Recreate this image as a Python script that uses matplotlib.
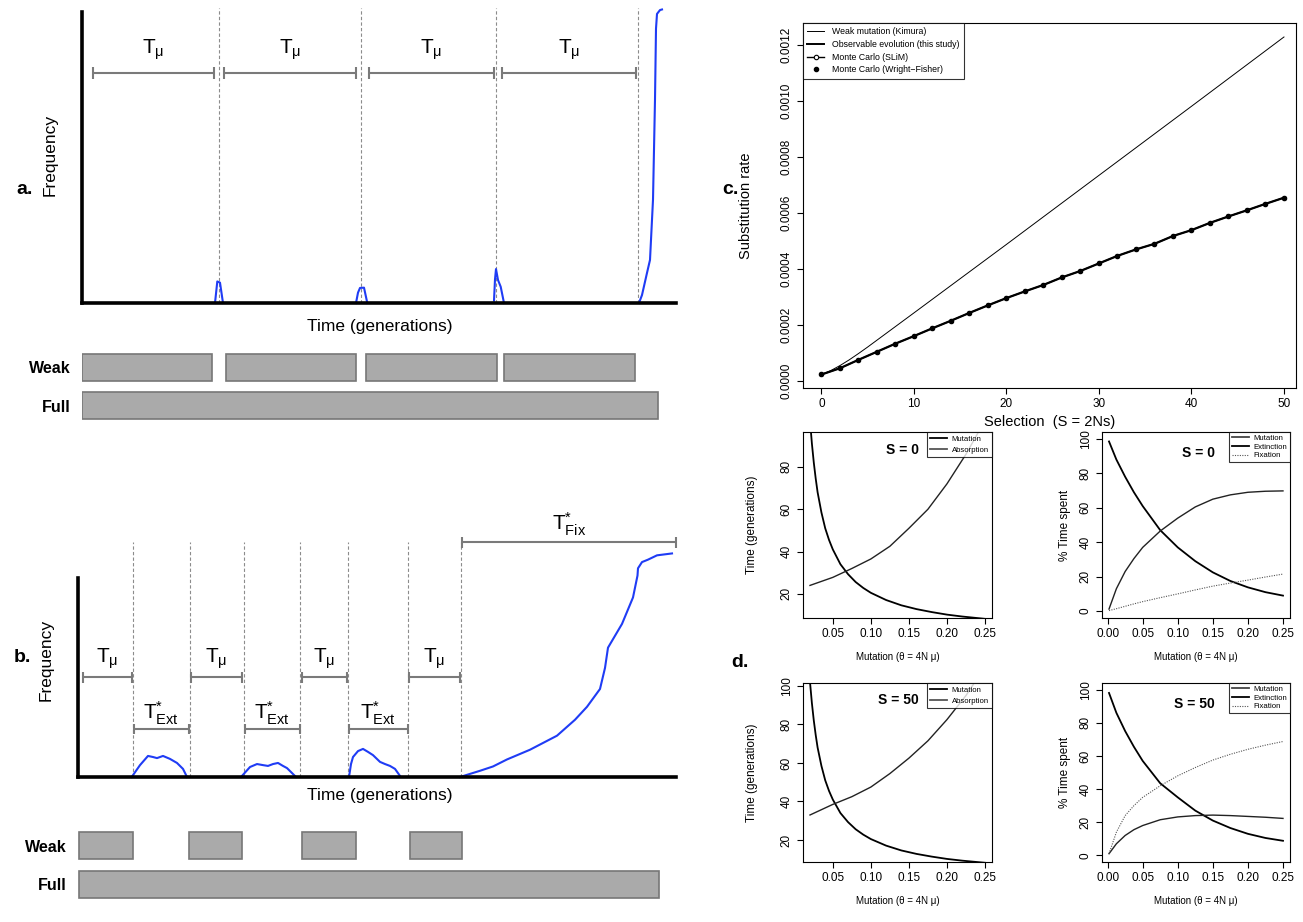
import matplotlib
matplotlib.use("Agg")
import matplotlib.pyplot as plt
from matplotlib.lines import Line2D

plt.rcParams['font.family'] = ['Liberation Sans', 'DejaVu Sans']
plt.rcParams['mathtext.fontset'] = 'custom'
plt.rcParams['mathtext.rm'] = 'Liberation Sans'
plt.rcParams['mathtext.it'] = 'Liberation Sans:italic'
plt.rcParams['mathtext.bf'] = 'Liberation Sans:bold'

# ---------------- data ----------------
BLUE = '#1f3cf5'
GRAYL = '#7a7a7a'
BARF = '#aaaaaa'
BARE = '#777777'

# panel a (time in generations)
a_mut_times = [137, 279, 414, 556]
a_tmu_start = [11, 142, 287, 420]
a_tmu_end = [132, 274, 412, 554]
a_blip1_t = [133, 135.3, 138, 141]
a_blip1_f = [0, 0.073, 0.069, 0]
a_blip2_t = [274, 276, 278, 282, 285.3]
a_blip2_f = [0, 0.035, 0.051, 0.052, 0]
a_blip3_t = [412, 413, 414, 416, 418.7, 422]
a_blip3_f = [0.008, 0.08, 0.115, 0.078, 0.055, 0]
a_sweep_t = [557, 560, 565, 568, 571, 573, 574, 575, 578, 580]
a_sweep_f = [0, 0.027, 0.102, 0.146, 0.35, 0.69, 0.93, 0.98, 0.993, 0.995]
a_weak_start = [0, 144, 284, 422]
a_weak_end = [130, 274, 415, 553]
a_full = (0, 576)

# panel b (time in generations)
b_mut_times = [55, 112, 166, 222, 270, 330, 383]
b_tmu_start = [5, 113, 224, 331]
b_tmu_end = [54, 164, 269, 382]
b_ext_start = [56, 167, 271]
b_ext_end = [111, 222, 330]
b_fix = (384, 598)
b_bump1_t = [53.7, 62, 70, 75, 79, 85, 92, 99, 105, 109]
b_bump1_f = [0, 0.044, 0.078, 0.074, 0.070, 0.078, 0.067, 0.052, 0.030, 0]
b_bump2_t = [163, 172, 179, 185, 190, 195, 200, 205, 209, 218]
b_bump2_f = [0, 0.037, 0.048, 0.044, 0.041, 0.048, 0.052, 0.041, 0.033, 0]
b_bump3_t = [271, 273, 275, 280, 285, 290, 295, 302, 307, 312, 317, 322]
b_bump3_f = [0, 0.048, 0.074, 0.096, 0.104, 0.093, 0.081, 0.056, 0.048, 0.041, 0.030, 0.004]
b_sweep_t = [382, 402, 415, 429, 452, 479, 497, 509, 522, 527, 530, 544, 555, 559.5, 560, 564, 570, 579, 594]
b_sweep_f = [0, 0.023, 0.039, 0.065, 0.101, 0.153, 0.212, 0.260, 0.326, 0.404, 0.479, 0.567,
             0.665, 0.746, 0.773, 0.796, 0.805, 0.821, 0.828]
b_weak_start = [1, 111, 224, 332]
b_weak_end = [55, 164, 278, 384]
b_full = (1, 581)

# panel c
c_S = [0, 2, 4, 6, 8, 10, 12, 14, 16, 18, 20, 22, 24, 26, 28, 30, 32, 34, 36, 38, 40, 42, 44, 46, 48, 50]
c_mc = [0.0000225, 0.000045, 0.000075, 0.000104, 0.000133, 0.000160, 0.000188, 0.000215, 0.000243,
        0.000270, 0.000296, 0.000320, 0.000343, 0.000370, 0.000393, 0.000420, 0.000447, 0.000470,
        0.000490, 0.000518, 0.000539, 0.000565, 0.000588, 0.000610, 0.000633, 0.000655]
c_kim_S = [0, 1, 2, 3, 4, 5, 10, 20, 30, 40, 50]
c_kim = [0.0000225, 0.0000365, 0.0000545, 0.000075, 0.0000975, 0.000121, 0.000243, 0.000488,
         0.000735, 0.000982, 0.001230]

# panel d
d_theta_t = [0.02, 0.0225, 0.025, 0.0275, 0.03, 0.035, 0.04, 0.045, 0.05, 0.06, 0.07, 0.08, 0.09,
             0.10, 0.12, 0.14, 0.16, 0.18, 0.20, 0.22, 0.25]
d_mut_time = [102, 91, 82, 74.5, 68, 58.5, 51, 45.5, 41, 34, 29.3, 25.6, 22.8, 20.5, 17.1, 14.6,
              12.8, 11.4, 10.2, 9.3, 8.2]
d_abs_theta = [0.02, 0.05, 0.075, 0.10, 0.125, 0.15, 0.175, 0.20, 0.225, 0.25]
d_abs_S0 = [24, 27.8, 32, 36.5, 42.5, 51, 60, 72, 86, 102]
d_abs_S50 = [33, 38.5, 42.5, 47.5, 54.5, 62.5, 71.5, 82.5, 95, 110]
d_theta_p = [0.002, 0.0125, 0.025, 0.0375, 0.05, 0.075, 0.10, 0.125, 0.15, 0.175, 0.20, 0.225, 0.25]
d_pmut_S0 = [98.5, 88, 78, 69, 61, 47, 37, 29, 22.5, 17.5, 13.8, 11, 9]
d_pext_S0 = [1.2, 13, 23, 30.5, 37, 46.5, 54, 60.5, 65, 67.5, 69, 69.6, 69.8]
d_pfix_S0 = [0.3, 1.4, 2.8, 4.2, 5.5, 7.8, 10, 12.3, 14.5, 16.3, 18, 19.8, 21.5]
d_pmut_S50 = [98, 86, 75, 65.5, 57, 43.5, 35, 27, 21, 16.5, 13, 10.5, 8.8]
d_pext_S50 = [1, 7, 12, 15.5, 18, 21.5, 23.2, 24, 24.3, 24, 23.5, 23, 22.3]
d_pfix_S50 = [1, 14, 24, 30, 35, 42, 48, 53, 57.5, 61, 64, 66.5, 68.7]

# ---------------- figure ----------------
W, H = 1303, 922
fig = plt.figure(figsize=(W / 100, H / 100), dpi=100)


def box(x0, y0, x1, y1):
    return [x0 / W, 1 - y1 / H, (x1 - x0) / W, (y1 - y0) / H]


def schematic_axes(rect, xmax, left_top):
    ax = fig.add_axes(rect)
    ax.set_xlim(0, xmax)
    ax.set_ylim(0, 1)
    for s in ('top', 'right'):
        ax.spines[s].set_visible(False)
    ax.spines['left'].set_linewidth(2.6)
    ax.spines['bottom'].set_linewidth(2.6)
    ax.spines['left'].set_bounds(0, left_top)
    ax.set_xticks([])
    ax.set_yticks([])
    ax.patch.set_alpha(0)
    return ax


def bracket(ax, s, e, y, label, ly, fs=15):
    ax.plot([s, e], [y, y], color=GRAYL, lw=1.5, clip_on=False, solid_capstyle='butt')
    ax.vlines([s, e], y - 0.02, y + 0.02, color=GRAYL, lw=1.5, clip_on=False)
    ax.text((s + e) / 2, ly, label, ha='center', va='center', fontsize=fs, clip_on=False)


def bars_axes(rect, xmax, weak_s, weak_e, full):
    ax = fig.add_axes(rect)
    ax.set_xlim(0, xmax)
    ax.set_ylim(1.45, -0.45)
    ax.barh([0] * len(weak_s), [e - s for s, e in zip(weak_s, weak_e)], left=weak_s,
            height=0.7, color=BARF, edgecolor=BARE, lw=1.2)
    ax.barh([1], [full[1] - full[0]], left=[full[0]], height=0.7, color=BARF,
            edgecolor=BARE, lw=1.2)
    ax.set_yticks([0, 1])
    ax.set_yticklabels(['Weak', 'Full'], fontsize=11.5, fontweight='bold')
    ax.tick_params(axis='y', length=0, pad=8)
    ax.set_xticks([])
    for s in ax.spines.values():
        s.set_visible(False)
    ax.patch.set_alpha(0)
    return ax


TMU = r'T$_{\mathregular{μ}}$'
TEXT = r'T$^{*}_{\mathregular{Ext}}$'
TFIX = r'T$^{*}_{\mathregular{Fix}}$'

# ----- panel a -----
axA = schematic_axes(box(82, 8, 676, 303), 594, 0.985)
axA.vlines(a_mut_times, 0, 1.0, colors='#8c8c8c', linestyles=(0, (3, 2)), lw=0.8)
for s, e in zip(a_tmu_start, a_tmu_end):
    bracket(axA, s, e, 0.78, TMU, 0.86)
for t, f in [(a_blip1_t, a_blip1_f), (a_blip2_t, a_blip2_f), (a_blip3_t, a_blip3_f),
             (a_sweep_t, a_sweep_f)]:
    axA.plot(t, f, color=BLUE, lw=1.5, clip_on=False)
fig.text(50 / W, 1 - 155 / H, 'Frequency', rotation=90, fontsize=12.5, ha='center', va='center')
fig.text(25 / W, 1 - 190 / H, 'a.', fontsize=14, fontweight='bold', ha='center', va='center')
fig.text(380 / W, 1 - 326 / H, 'Time (generations)', fontsize=12.5, ha='center', va='center')
bars_axes(box(82, 350, 676, 423), 594, a_weak_start, a_weak_end, a_full)

# ----- panel b -----
axB = schematic_axes(box(78, 507, 676, 777), 598, 0.737)
axB.vlines(b_mut_times, 0, 0.87, colors='#8c8c8c', linestyles=(0, (3, 2)), lw=0.8)
for s, e in zip(b_tmu_start, b_tmu_end):
    bracket(axB, s, e, 0.370, TMU, 0.437)
for s, e in zip(b_ext_start, b_ext_end):
    bracket(axB, s, e, 0.178, TEXT, 0.237)
bracket(axB, b_fix[0], b_fix[1], 0.87, TFIX, 0.935)
for t, f in [(b_bump1_t, b_bump1_f), (b_bump2_t, b_bump2_f), (b_bump3_t, b_bump3_f),
             (b_sweep_t, b_sweep_f)]:
    axB.plot(t, f, color=BLUE, lw=1.5, clip_on=False)
fig.text(46 / W, 1 - 660 / H, 'Frequency', rotation=90, fontsize=12.5, ha='center', va='center')
fig.text(22 / W, 1 - 658 / H, 'b.', fontsize=14, fontweight='bold', ha='center', va='center')
fig.text(380 / W, 1 - 795 / H, 'Time (generations)', fontsize=12.5, ha='center', va='center')
bars_axes(box(78, 828, 676, 902), 598, b_weak_start, b_weak_end, b_full)


# ----- R-like axes helper -----
def r_style(ax, fs):
    for s in ax.spines.values():
        s.set_linewidth(0.8)
    ax.tick_params(direction='out', length=4.5, width=0.8, labelsize=fs, pad=3)
    ax.tick_params(axis='y', labelrotation=90)
    for lbl in ax.get_yticklabels():
        lbl.set_va('center')


# ----- panel c -----
axC = fig.add_axes(box(803, 23, 1296, 388))
axC.plot(c_kim_S, c_kim, color='black', lw=0.7)
axC.plot(c_S, c_mc, color='black', lw=1.6)
axC.plot(c_S, c_mc, color='black', lw=1.0, marker='o', ms=3.2, mfc='white', mew=0.8)
axC.plot(c_S, c_mc, ls='none', marker='o', ms=2.6, color='black')
axC.set_xlim(-2, 51.3)
axC.set_ylim(-0.0000258, 0.00128)
axC.set_xticks([0, 10, 20, 30, 40, 50])
axC.set_yticks([0, 0.0002, 0.0004, 0.0006, 0.0008, 0.0010, 0.0012])
axC.set_yticklabels(['0.0000', '0.0002', '0.0004', '0.0006', '0.0008', '0.0010', '0.0012'])
r_style(axC, 8.5)
axC.tick_params(axis='x', pad=3)
axC.set_xlabel('Selection  (S = 2Ns)', fontsize=10.5, labelpad=3)
axC.set_ylabel('Substitution rate', fontsize=10.5, labelpad=20)
handles = [Line2D([], [], color='black', lw=0.7),
           Line2D([], [], color='black', lw=1.4),
           Line2D([], [], color='black', lw=1.0, marker='o', ms=3.2, mfc='white', mew=0.8),
           Line2D([], [], color='black', ls='none', marker='o', ms=3)]
legC = axC.legend(handles, ['Weak mutation (Kimura)', 'Observable evolution (this study)',
                            'Monte Carlo (SLiM)', 'Monte Carlo (Wright\u2212Fisher)'],
                  loc='upper left', borderaxespad=0, fontsize=6.3, frameon=True, fancybox=False,
                  edgecolor='black', handlelength=1.9, labelspacing=0.42, borderpad=0.5,
                  handletextpad=0.9)
legC.get_frame().set_linewidth(0.8)
fig.text(730 / W, 1 - 190 / H, 'c.', fontsize=14, fontweight='bold', ha='center', va='center')
fig.text(740 / W, 1 - 662 / H, 'd.', fontsize=14, fontweight='bold', ha='center', va='center')

XL = 'Mutation (θ = 4N μ)'


def time_panel(rect, abs_vals, ylim, yticks, title):
    ax = fig.add_axes(rect)
    ax.plot(d_theta_t, d_mut_time, color='black', lw=1.3)
    ax.plot(d_abs_theta, abs_vals, color='#222222', lw=1.0)
    ax.set_xlim(0.0108, 0.2592)
    ax.set_ylim(*ylim)
    ax.set_xticks([0.05, 0.10, 0.15, 0.20, 0.25])
    ax.set_xticklabels(['0.05', '0.10', '0.15', '0.20', '0.25'])
    ax.set_yticks(yticks)
    r_style(ax, 8.5)
    ax.set_xlabel(XL, fontsize=7, labelpad=8)
    ax.set_ylabel('Time (generations)', fontsize=8.5, labelpad=16)
    h = [Line2D([], [], color='black', lw=1.3), Line2D([], [], color='#555555', lw=1.3)]
    lg = ax.legend(h, ['Mutation', 'Absorption'], loc='upper right', borderaxespad=0,
                   fontsize=5.6, fancybox=False, edgecolor='black', handlelength=2.2,
                   labelspacing=0.5, borderpad=0.4, handletextpad=0.6)
    lg.get_frame().set_linewidth(0.8)
    ax.text(0.615, 0.905, title, transform=ax.transAxes, ha='right', va='center',
            fontsize=10, fontweight='bold')
    return ax


def pct_panel(rect, mut, ext, fix, title):
    ax = fig.add_axes(rect)
    ax.plot(d_theta_p, mut, color='black', lw=1.3)
    ax.plot(d_theta_p, ext, color='#222222', lw=1.0)
    ax.plot(d_theta_p, fix, color='#555555', lw=0.8, ls=(0, (1, 1.2)))
    ax.set_xlim(-0.008, 0.26)
    ax.set_ylim(-4, 104)
    ax.set_xticks([0, 0.05, 0.10, 0.15, 0.20, 0.25])
    ax.set_xticklabels(['0.00', '0.05', '0.10', '0.15', '0.20', '0.25'])
    ax.set_yticks([0, 20, 40, 60, 80, 100])
    r_style(ax, 8.5)
    ax.set_xlabel(XL, fontsize=7, labelpad=8)
    ax.set_ylabel('% Time spent', fontsize=8.5, labelpad=6)
    h = [Line2D([], [], color='#444444', lw=1.3), Line2D([], [], color='black', lw=1.3),
         Line2D([], [], color='#555555', lw=0.8, ls=(0, (1, 1.2)))]
    lg = ax.legend(h, ['Mutation', 'Extinction', 'Fixation'], loc='upper right', borderaxespad=0,
                   fontsize=5.6, fancybox=False, edgecolor='black', handlelength=2.2,
                   labelspacing=0.15, borderpad=0.35, handletextpad=0.6)
    lg.get_frame().set_linewidth(0.8)
    ax.text(0.6, 0.885, title, transform=ax.transAxes, ha='right', va='center',
            fontsize=10, fontweight='bold')
    return ax


time_panel(box(803, 432, 992, 618), d_abs_S0, (8.6, 96.5), [20, 40, 60, 80], 'S = 0')
pct_panel(box(1102, 432, 1290, 618), d_pmut_S0, d_pext_S0, d_pfix_S0, 'S = 0')
time_panel(box(803, 683, 992, 862), d_abs_S50, (8.6, 101.5), [20, 40, 60, 80, 100], 'S = 50')
pct_panel(box(1102, 683, 1290, 862), d_pmut_S50, d_pext_S50, d_pfix_S50, 'S = 50')

fig.savefig('out.png', dpi=100)
